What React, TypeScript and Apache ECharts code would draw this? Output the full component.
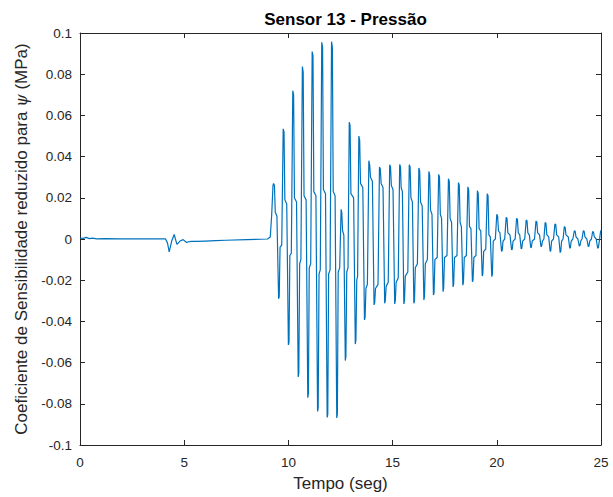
import React, { useEffect, useRef } from "react";
import * as echarts from "echarts";

// ---- Data (time in s, coefficient in MPa) ----
const titleText = "Sensor 13 - Pressão";
const xAxisName = "Tempo (seg)";
const yAxisName = "Coeficiente de Sensibilidade reduzido para {i|ψ} (MPa)";
const xTicks = [0, 5, 10, 15, 20, 25];
const yTickLabels = ["-0.1", "-0.08", "-0.06", "-0.04", "-0.02", "0", "0.02", "0.04", "0.06", "0.08", "0.1"];

const quietSegment: [number, number][] = [
  [0, 0.0005], [0.15, 0.0003], [0.3, 0.0008], [0.45, 0.0002], [0.6, 0.0004], [0.8, 0.0001],
  [1.2, 0.0002], [2.0, 0.0001], [3.0, 0.0001], [4.1, 0.0001], [4.2, -0.002], [4.28, -0.0062],
  [4.4, -0.001], [4.52, 0.0022], [4.65, -0.0026], [4.8, -0.0010], [4.95, -0.0003], [5.1, -0.0016],
  [5.3, -0.0012], [5.6, -0.0012], [6.0, -0.0010], [6.5, -0.0008], [7.0, -0.0006], [8.0, -0.0003],
  [9.0, 0.0], [9.13, 0.001], [9.2, 0.012], [9.26, 0.026],
];

const rampSegment: [number, number][] = [
  [9.29, 0.027], [9.33, 0.026], [9.37, 0.013], [9.45, 0.011], [9.53, -0.029], [9.56, -0.028], [9.6, -0.004], [9.68, -0.003],
  [9.75, 0.0535], [9.79, 0.052], [9.83, 0.019], [9.92, 0.017], [10.0, -0.0514], [10.03, -0.05], [10.07, -0.008], [10.14, -0.007],
  [10.21, 0.072], [10.25, 0.07], [10.29, 0.02], [10.39, 0.018], [10.47, -0.067], [10.5, -0.065], [10.54, -0.012], [10.6, -0.01],
  [10.67, 0.0837], [10.71, 0.081], [10.75, 0.021], [10.85, 0.019], [10.93, -0.077], [10.96, -0.075], [11.0, -0.014], [11.07, -0.012],
  [11.14, 0.091], [11.18, 0.089], [11.22, 0.023], [11.32, 0.021], [11.4, -0.0837], [11.43, -0.082], [11.47, -0.017], [11.53, -0.015],
  [11.6, 0.0955], [11.64, 0.093], [11.68, 0.024], [11.78, 0.022], [11.86, -0.0866], [11.89, -0.085], [11.93, -0.017], [12.0, -0.015],
  [12.07, 0.0958], [12.11, 0.093], [12.15, 0.023], [12.24, 0.021], [12.32, -0.0869], [12.35, -0.085], [12.39, -0.016], [12.46, -0.014],
  [12.53, 0.0144], [12.56, 0.013], [12.6, 0.004], [12.66, 0.002], [12.73, -0.059], [12.76, -0.057], [12.8, -0.016], [12.86, -0.014],
];

const decaySegment: [number, number][] = [
  [12.92, 0.0567], [12.96, 0.055], [13.0, 0.022], [13.13, 0.02], [13.21, -0.051], [13.24, -0.049], [13.28, -0.02], [13.32, -0.018],
  [13.38, 0.05], [13.42, 0.048], [13.46, 0.027], [13.57, 0.025], [13.65, -0.0393], [13.68, -0.038], [13.72, -0.024], [13.79, -0.022],
  [13.86, 0.038], [13.9, 0.036], [13.94, 0.03], [14.03, 0.028], [14.11, -0.032], [14.14, -0.031], [14.18, -0.024], [14.3, -0.022],
  [14.37, 0.035], [14.41, 0.034], [14.45, 0.027], [14.54, 0.025], [14.62, -0.0312], [14.65, -0.03], [14.69, -0.023], [14.79, -0.021],
  [14.86, 0.036], [14.9, 0.035], [14.94, 0.026], [15.02, 0.024], [15.1, -0.0315], [15.13, -0.03], [15.17, -0.021], [15.27, -0.019],
  [15.34, 0.0362], [15.38, 0.035], [15.41, 0.025], [15.47, 0.023], [15.54, -0.0315], [15.57, -0.03], [15.61, -0.018], [15.73, -0.016],
  [15.8, 0.036], [15.84, 0.035], [15.88, 0.02], [15.95, 0.018], [16.02, -0.0312], [16.05, -0.03], [16.09, -0.014], [16.19, -0.012],
  [16.26, 0.0345], [16.3, 0.033], [16.34, 0.018], [16.42, 0.016], [16.5, -0.0296], [16.53, -0.028], [16.57, -0.012], [16.67, -0.01],
  [16.74, 0.0328], [16.78, 0.031], [16.82, 0.014], [16.89, 0.012], [16.96, -0.0272], [16.99, -0.026], [17.03, -0.01], [17.14, -0.009],
  [17.21, 0.0314], [17.25, 0.03], [17.29, 0.012], [17.35, 0.01], [17.42, -0.0256], [17.45, -0.024], [17.49, -0.009], [17.61, -0.008],
  [17.68, 0.0293], [17.72, 0.028], [17.76, 0.01], [17.83, 0.008], [17.9, -0.0232], [17.93, -0.022], [17.97, -0.009], [18.09, -0.008],
  [18.16, 0.0274], [18.2, 0.026], [18.24, 0.008], [18.3, 0.006], [18.37, -0.0224], [18.4, -0.021], [18.44, -0.009], [18.54, -0.008],
  [18.61, 0.0253], [18.65, 0.024], [18.69, 0.006], [18.76, 0.005], [18.83, -0.0207], [18.86, -0.02], [18.9, -0.009], [19.0, -0.008],
  [19.07, 0.0235], [19.11, 0.022], [19.15, 0.005], [19.23, 0.004], [19.3, -0.018], [19.33, -0.017], [19.37, -0.006], [19.47, -0.005],
  [19.54, 0.022], [19.58, 0.021], [19.62, 0.002], [19.69, 0.001], [19.76, -0.0183], [19.79, -0.017], [19.83, -0.001], [19.93, 0.0],
];

const tailSegment: [number, number][] = [
  [20.0, 0.012], [20.04, 0.011], [20.08, 0.004], [20.15, 0.003], [20.23, -0.006], [20.26, -0.0055], [20.3, -0.001], [20.38, 0.0],
  [20.45, 0.0105], [20.49, 0.01], [20.53, 0.003], [20.63, 0.002], [20.71, -0.0053], [20.74, -0.005], [20.78, -0.001], [20.88, 0.0],
  [20.95, 0.01], [20.99, 0.0095], [21.03, 0.003], [21.1, 0.002], [21.17, -0.0048], [21.2, -0.0045], [21.24, -0.001], [21.34, 0.0],
  [21.41, 0.0092], [21.45, 0.0088], [21.49, 0.003], [21.56, 0.002], [21.63, -0.0042], [21.66, -0.004], [21.7, -0.001], [21.81, 0.0],
  [21.88, 0.0087], [21.92, 0.0083], [21.96, 0.003], [22.05, 0.002], [22.12, -0.0037], [22.15, -0.0035], [22.19, -0.001], [22.26, 0.0],
  [22.32, 0.008], [22.36, 0.0076], [22.4, 0.002], [22.49, 0.001], [22.56, -0.006], [22.59, -0.0057], [22.63, -0.001], [22.72, 0.0],
  [22.79, 0.0073], [22.83, 0.007], [22.87, 0.002], [22.97, 0.001], [23.04, -0.0066], [23.07, -0.006], [23.11, -0.001], [23.18, 0.0],
  [23.24, 0.006], [23.28, 0.0057], [23.32, 0.002], [23.43, 0.001], [23.5, -0.0045], [23.53, -0.0043], [23.57, -0.001], [23.65, 0.0],
  [23.72, 0.004], [23.76, 0.0038], [23.8, 0.001], [23.89, 0.0], [23.96, -0.0034], [23.99, -0.0032], [24.03, -0.001], [24.09, 0.0],
  [24.15, 0.004], [24.19, 0.0038], [24.23, 0.001], [24.32, 0.0], [24.39, -0.0037], [24.42, -0.0035], [24.46, -0.001], [24.54, 0.0],
  [24.6, 0.0036], [24.64, 0.0034], [24.68, 0.001], [24.77, 0.0], [24.84, -0.0045], [24.87, -0.0043], [24.92, -0.001], [24.97, 0.003],
  [25.0, 0.0043],
];

const AXIS_COLOR = "#262626";
const LINE_COLOR = "#0072BD";
const FONT = "'Liberation Sans', Arial, Helvetica, sans-serif";

export default function App() {
  const ref = useRef<HTMLDivElement | null>(null);

  useEffect(() => {
    if (!ref.current) return;
    const chart = echarts.init(ref.current, null, { renderer: "svg" });
    const data = [...quietSegment, ...rampSegment, ...decaySegment, ...tailSegment];
    const yLabelFor = (v: number) => {
      const idx = Math.round((v + 0.1) / 0.02);
      return yTickLabels[idx] ?? "";
    };
    const commonTick = { show: true, inside: true, length: 5, lineStyle: { color: AXIS_COLOR, width: 1 } };
    const commonLine = { show: true, onZero: false, lineStyle: { color: AXIS_COLOR, width: 1 } };
    chart.setOption({
      animation: false,
      backgroundColor: "#ffffff",
      textStyle: { fontFamily: FONT },
      title: {
        text: titleText,
        left: 340.5,
        top: 6,
        textAlign: "center",
        textStyle: { fontFamily: FONT, fontSize: 17, fontWeight: "bold", color: "#000000" },
      },
      grid: { left: 80, right: 12, top: 33, bottom: 51, containLabel: false },
      xAxis: [
        {
          type: "value",
          min: xTicks[0],
          max: xTicks[xTicks.length - 1],
          interval: 5,
          position: "bottom",
          name: xAxisName,
          nameLocation: "middle",
          nameGap: 30,
          nameTextStyle: { fontFamily: FONT, fontSize: 17, color: AXIS_COLOR },
          axisLine: commonLine,
          axisTick: commonTick,
          splitLine: { show: false },
          axisLabel: { color: AXIS_COLOR, fontFamily: FONT, fontSize: 13.5, margin: 10 },
        },
        {
          type: "value",
          min: xTicks[0],
          max: xTicks[xTicks.length - 1],
          interval: 5,
          position: "top",
          axisLine: commonLine,
          axisTick: commonTick,
          splitLine: { show: false },
          axisLabel: { show: false },
        },
      ],
      yAxis: [
        {
          type: "value",
          min: -0.1,
          max: 0.1,
          interval: 0.02,
          position: "left",
          name: yAxisName,
          nameLocation: "middle",
          nameGap: 50,
          nameTextStyle: {
            fontFamily: FONT,
            fontSize: 17,
            color: AXIS_COLOR,
            rich: { i: { fontFamily: "'DejaVu Serif', serif", fontStyle: "italic", fontSize: 16, color: AXIS_COLOR } },
          },
          axisLine: commonLine,
          axisTick: commonTick,
          splitLine: { show: false },
          axisLabel: { color: AXIS_COLOR, fontFamily: FONT, fontSize: 13.5, margin: 8, formatter: yLabelFor },
        },
        {
          type: "value",
          min: -0.1,
          max: 0.1,
          interval: 0.02,
          position: "right",
          axisLine: commonLine,
          axisTick: commonTick,
          splitLine: { show: false },
          axisLabel: { show: false },
        },
      ],
      series: [
        {
          type: "line",
          xAxisIndex: 0,
          yAxisIndex: 0,
          data,
          showSymbol: false,
          symbol: "none",
          lineStyle: { color: LINE_COLOR, width: 1.2 },
          clip: true,
        },
      ],
    });
    return () => chart.dispose();
  }, []);

  return (
    <div
      ref={ref}
      style={{ position: "absolute", left: 0, top: 0, width: 613, height: 497, background: "#fff" }}
    />
  );
}
